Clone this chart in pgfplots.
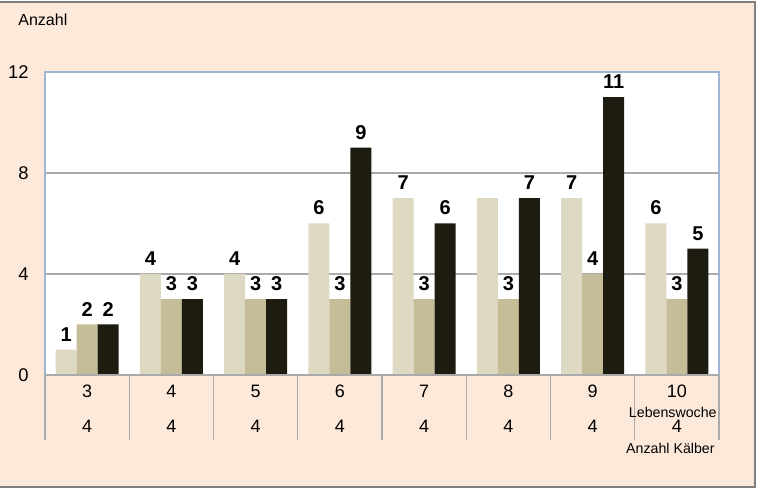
\documentclass[border=0pt]{standalone}
\usepackage{pgfplots}
\pgfplotsset{compat=1.18}
\usepackage{fontspec}
\setmainfont{Liberation Sans}
\definecolor{bgc}{RGB}{253,233,218}
\definecolor{sone}{RGB}{221,217,195}
\definecolor{stwo}{RGB}{196,189,151}
\definecolor{sthree}{RGB}{30,28,17}
\definecolor{frameblue}{RGB}{160,180,215}
\definecolor{gridc}{RGB}{170,170,170}
\begin{document}
\begin{tikzpicture}
\useasboundingbox (-22.5pt,-58.5pt) rectangle (357.5pt,187.5pt);
\fill[bgc] (-22.5pt,-56pt) rectangle (355pt,186.5pt);
\begin{axis}[
  at={(0pt,0pt)}, anchor=south west,
  scale only axis, width=337pt, height=151.5pt,
  xmin=-0.5, xmax=7.5, ymin=0, ymax=12,
  ytick={0,4,8,12},
  xtick={0,...,7},
  xticklabels={{3\\4},{4\\4},{5\\4},{6\\4},{7\\4},{8\\4},{9\\4},{10\\4}},
  xticklabel style={align=center, font=\fontsize{9}{17.5}\selectfont, anchor=north, inner sep=0pt, yshift=-5pt},
  yticklabel style={font=\fontsize{9.2}{10}\selectfont, inner sep=0pt, xshift=-8pt},
  /pgf/number format/assume math mode=true,
  major tick length=0pt,
  ymajorgrids, grid style={gridc, line width=0.6pt},
  axis line style={frameblue, line width=0.6pt},
  axis background/.style={fill=white},
  ybar, bar width=10.53pt,
  point meta=explicit symbolic,
  nodes near coords,
  nodes near coords style={font=\fontsize{10}{11}\bfseries\selectfont, inner sep=1.5pt, anchor=south, yshift=2.5pt},
  clip=false,
]
\addplot[fill=sone, draw=none, bar shift=-10.53pt] coordinates {
  (0,1) [1] (1,4) [4] (2,4) [4] (3,6) [6] (4,7) [7] (5,7) [\phantom{7}] (6,7) [7] (7,6) [6]};
\addplot[fill=stwo, draw=none, bar shift=0pt] coordinates {
  (0,2) [2] (1,3) [3] (2,3) [3] (3,3) [3] (4,3) [3] (5,3) [3] (6,4) [4] (7,3) [3]};
\addplot[fill=sthree, draw=none, bar shift=10.53pt] coordinates {
  (0,2) [2] (1,3) [3] (2,3) [3] (3,9) [9] (4,6) [6] (5,7) [7] (6,11) [11] (7,5) [5]};
\end{axis}
\draw[gridc, line width=0.6pt] (0,0) -- (337pt,0);
\foreach \i in {0,...,8} \draw[gridc, line width=0.6pt] (\i*42.125pt,0) -- (\i*42.125pt,-32.5pt);
\node[anchor=west, inner sep=0pt, font=\fontsize{8}{9}\selectfont] at (-13.5pt,177.5pt) {Anzahl};
\node[anchor=east, inner sep=0pt, font=\fontsize{7.1}{8}\selectfont] at (336pt,-18.5pt) {Lebenswoche};
\node[anchor=east, inner sep=0pt, font=\fontsize{7.1}{8}\selectfont] at (335pt,-36.5pt) {Anzahl Kälber};
\draw[gray, line width=0.7pt] (-22.5pt,-56pt) -- (355pt,-56pt) -- (355pt,186.5pt) -- (-22.5pt,186.5pt);
\end{tikzpicture}
\end{document}
